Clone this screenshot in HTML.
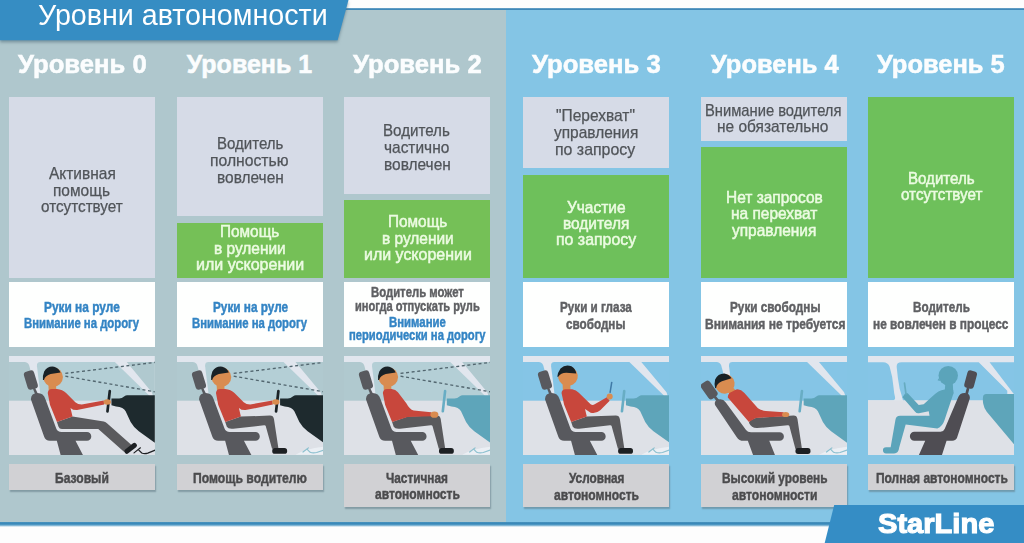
<!DOCTYPE html>
<html lang="ru"><head><meta charset="utf-8"><title>Уровни автономности</title>
<style>
html,body{margin:0;padding:0;}
body{width:1024px;height:543px;overflow:hidden;background:#fdfdfd;position:relative;font-family:"Liberation Sans",sans-serif;}
.abs{position:absolute;}
#topline{left:0;top:7.8px;width:1024px;height:5px;background:linear-gradient(#fdfdfd 0,#3f88b8 12%,#3f88b8 62%,rgba(63,136,184,0) 100%);}
#lp{left:0;top:10px;width:506px;height:512px;background:#afc7cd;}
#rp{left:505.5px;top:10px;width:518.5px;height:512px;background:#84c5e5;}
#botline{left:0;top:522px;width:1024px;height:4.5px;background:linear-gradient(#4a93bd 0,#3787b8 35%,#5aa0c8 60%,#fdfdfd 100%);}
.b{position:absolute;width:146px;}
.lav{background:#d6dbe7;}
.grn{background:#70bf5a;}
.wht{background:#fefffe;top:281.7px;height:65.8px;}
.lab{background:#d1d1d4;box-shadow:1.2px 2px 1.2px rgba(95,120,132,.55);top:463.9px;}
.x{position:absolute;white-space:nowrap;transform-origin:0 0;}
.t{font-size:15.7px;font-weight:normal;line-height:19px;}.c{font-size:14.7px;font-weight:bold;line-height:18px;}.c2{font-size:14.0px;font-weight:bold;line-height:18px;}.lvl{font-size:25px;font-weight:bold;line-height:30px;}.ttl{font-size:29.6px;font-weight:normal;line-height:35px;}.sl{font-size:27px;font-weight:bold;line-height:32px;}
.lvl{-webkit-text-stroke:.55px #fbfdfe;}
.t{-webkit-text-stroke:.25px currentColor;}
.t.g{-webkit-text-stroke:.5px currentColor;}
.c,.c2{-webkit-text-stroke:.45px currentColor;}
.sl{-webkit-text-stroke:1.1px #fff;}
.ill{position:absolute;top:356.1px;height:99.1px;}
</style></head><body>
<div class="abs" id="topline"></div>
<div class="abs" id="lp"></div>
<div class="abs" id="rp"></div>
<div class="abs" id="botline"></div>
<svg class="abs" style="left:0;top:0;width:360px;height:52px;filter:drop-shadow(0.5px 2px 1.6px rgba(70,100,115,.55))" viewBox="0 0 360 52"><polygon points="-5,-5 349.8,-5 348.5,0 337.6,40.3 -5,40.3" fill="#368dc3"/></svg>
<!-- col0 -->
<div class="b lav" style="left:8.8px;width:145.8px;top:96.6px;height:181.1px"></div>
<div class="b wht" style="left:8.8px;width:145.8px"></div>
<div class="b lab" style="left:8.8px;width:145.8px;height:25.9px"></div>
<!-- col1 -->
<div class="b lav" style="left:176.7px;width:146.7px;top:96.6px;height:119.9px"></div>
<div class="b grn" style="left:176.7px;width:146.7px;top:223.2px;height:54.4px;background:#75c057"></div>
<div class="b wht" style="left:176.7px;width:146.7px"></div>
<div class="b lab" style="left:176.7px;width:146.7px;height:25.9px"></div>
<!-- col2 -->
<div class="b lav" style="left:344.2px;width:146.3px;top:96.6px;height:97.6px"></div>
<div class="b grn" style="left:344.2px;width:146.3px;top:200.4px;height:77.2px;background:#75c057"></div>
<div class="b wht" style="left:344.2px;width:146.3px"></div>
<div class="b lab" style="left:344.2px;width:146.3px;height:42.7px"></div>
<!-- col3 -->
<div class="b lav" style="left:522.7px;width:146.5px;top:96.6px;height:71.4px"></div>
<div class="b grn" style="left:522.7px;width:146.5px;top:174.5px;height:103.1px;background:#6ec05b"></div>
<div class="b wht" style="left:522.7px;width:146.5px"></div>
<div class="b lab" style="left:522.7px;width:146.5px;height:42.7px"></div>
<!-- col4 -->
<div class="b lav" style="left:701.3px;width:146.1px;top:96.6px;height:44.0px"></div>
<div class="b grn" style="left:701.3px;width:146.1px;top:147.0px;height:130.6px;background:#6ec05b"></div>
<div class="b wht" style="left:701.3px;width:146.1px"></div>
<div class="b lab" style="left:701.3px;width:146.1px;height:42.7px"></div>
<!-- col5 -->
<div class="b grn" style="left:867.9px;width:146.3px;top:96.6px;height:181.0px;background:#6ec05b"></div>
<div class="b wht" style="left:867.9px;width:146.3px"></div>
<div class="b lab" style="left:867.9px;width:146.3px;height:25.9px"></div>
<svg class="abs" style="left:820px;top:500px;width:204px;height:43px" viewBox="0 0 204 43"><polygon points="14.2,4.9 204,4.9 204,43 4.7,43" fill="#358dc5"/></svg>
<svg class="ill" style="left:8.8px;width:145.8px" viewBox="0 -0.7 146 99.1" preserveAspectRatio="none">
<rect x="0" y="-1" width="146" height="100" fill="#e1e6ee"/>
<path d="M0,5.4 H15.5 Q19,5.4 20.3,9 L29.6,44.5 H0 Z" fill="#b0c9cf"/>
<path d="M31.4,5.4 H106 L140.4,38.9 V44.5 H32.3 L28,9.5 Q27.6,5.4 31.4,5.4 Z" fill="#b4cfd6"/>
<path d="M117.9,5.4 H146 V44.5 L143,35.6 Z" fill="#b0c9cf"/>
<rect x="0" y="44" width="146" height="56" fill="#dee1e7"/>
<g stroke="#52666f" stroke-width="1.35" stroke-dasharray="3 2.6" fill="none"><line x1="56.4" y1="16.7" x2="146" y2="5.7"/><line x1="56.4" y1="19.5" x2="146" y2="35.1"/></g>
<path d="M146,38.6 H118.3 Q116.8,38.7 115.6,39.6 Q113,41.8 110.3,41.9 L102.6,41.8 V48.6 L107.2,49.8 Q114.8,50.6 116.8,54.6 L121.8,65.3 Q125,71 130,74.5 L146,86 Z" fill="#1e2a2e"/><line x1="100.9" y1="34.4" x2="98.6" y2="54.6" stroke="#1b2327" stroke-width="2.7" stroke-linecap="round"/>
<g stroke="#1d2023" fill="none" stroke-linecap="round"><line x1="125.2" y1="96.2" x2="131.6" y2="91.1" stroke-width="1.2"/><path d="M130,93.4 L132.9,96.3 Q135.6,97.4 139,96.4 L145.8,93.6" stroke-width="1.3"/></g>
<g fill="#58595e"><rect x="16.6" y="14.1" width="10.6" height="18.6" rx="3.2" transform="rotate(-17 21.9 23.4)"/><path d="M23.4,30.5 L26,31 L29.4,38 L26.8,39 Z"/><path d="M21.9,42.5 Q22.2,36.4 28.6,36.4 Q34.6,36.4 36.5,42.6 L47.2,71.6 Q48.6,75.4 52.5,75.4 H78.1 A4.3,4.3 0 0 1 78.1,84 H66.6 L74.4,99 H51.9 L47.9,84 H41 Q36.6,84 35.2,80 Z"/></g>
<path d="M39.4,27 L47,26.5 L47.4,34 L39.8,34 Z" fill="#d98c50"/>
<g transform="rotate(0 44.2 20.4)"><circle cx="44.2" cy="20.4" r="9.8" fill="#d98c50"/><path d="M34.0,23.4 L35.0,23.3 Q36.4,18.8 41.7,17.4 L51.6,15.8 Q50.2,11.8 45.2,10.0 Q38.7,9.0 35.2,14.8 Q33.4,19.4 34.0,23.4 Z" fill="#192126"/></g>
<path d="M48,65.4 L63.6,59.9 L94.9,64.9 Q97,65.3 98.4,66.8 L122.7,88.4 L115.4,95.2 L89.4,72.3 H53 Q50.4,72.3 49.6,70 Z" fill="#5a5a5d"/><rect x="114.6" y="89.1" width="14.4" height="5" rx="2.2" transform="rotate(-38 121.8 91.6)" fill="#1d2023"/>
<path d="M38.8,36.4 Q39,32.3 43,32.2 L48,32.2 Q53.6,32.8 57.2,36.4 L66.4,45.6 Q69,47.9 72.8,47.9 L94.9,43.7 L95.4,47.9 L68.2,53.4 Q64,53.6 61.6,51.2 L63.6,59.9 L48,65.4 L41,48 Z" fill="#c8473c"/>
<ellipse cx="98.4" cy="45.3" rx="3.7" ry="2.7" fill="#d98c50"/>
</svg>
<svg class="ill" style="left:176.7px;width:146.7px" viewBox="0 -0.7 146 99.1" preserveAspectRatio="none">
<rect x="0" y="-1" width="146" height="100" fill="#e1e6ee"/>
<path d="M0,5.4 H15.5 Q19,5.4 20.3,9 L29.6,44.5 H0 Z" fill="#b0c9cf"/>
<path d="M31.4,5.4 H106 L140.4,38.9 V44.5 H32.3 L28,9.5 Q27.6,5.4 31.4,5.4 Z" fill="#b4cfd6"/>
<path d="M117.9,5.4 H146 V44.5 L143,35.6 Z" fill="#b0c9cf"/>
<rect x="0" y="44" width="146" height="56" fill="#dee1e7"/>
<g stroke="#52666f" stroke-width="1.35" stroke-dasharray="3 2.6" fill="none"><line x1="56.4" y1="16.7" x2="146" y2="5.7"/><line x1="56.4" y1="19.5" x2="146" y2="35.1"/></g>
<path d="M146,38.6 H118.3 Q116.8,38.7 115.6,39.6 Q113,41.8 110.3,41.9 L102.6,41.8 V48.6 L107.2,49.8 Q114.8,50.6 116.8,54.6 L121.8,65.3 Q125,71 130,74.5 L146,86 Z" fill="#1e2a2e"/><line x1="100.9" y1="34.4" x2="98.6" y2="54.6" stroke="#1b2327" stroke-width="2.7" stroke-linecap="round"/>
<path d="M118,98 Q128,92 146,90 V98 Z" fill="#eef3f7" opacity=".8"/><g stroke="#8cc0cf" fill="none" stroke-linecap="round"><line x1="125.4" y1="95.3" x2="130.8" y2="91.2" stroke-width="1.2"/><path d="M129.6,92.6 L132.5,95.6 Q135.4,96.8 139,95.8 L145.8,93.4" stroke-width="1.2"/></g>
<g fill="#58595e"><rect x="16.6" y="14.1" width="10.6" height="18.6" rx="3.2" transform="rotate(-17 21.9 23.4)"/><path d="M23.4,30.5 L26,31 L29.4,38 L26.8,39 Z"/><path d="M21.9,42.5 Q22.2,36.4 28.6,36.4 Q34.6,36.4 36.5,42.6 L47.2,71.6 Q48.6,75.4 52.5,75.4 H78.1 A4.3,4.3 0 0 1 78.1,84 H66.6 L74.4,99 H51.9 L47.9,84 H41 Q36.6,84 35.2,80 Z"/></g>
<path d="M39.4,27 L47,26.5 L47.4,34 L39.8,34 Z" fill="#d98c50"/>
<g transform="rotate(0 44.2 20.4)"><circle cx="44.2" cy="20.4" r="9.8" fill="#d98c50"/><path d="M34.0,23.4 L35.0,23.3 Q36.4,18.8 41.7,17.4 L51.6,15.8 Q50.2,11.8 45.2,10.0 Q38.7,9.0 35.2,14.8 Q33.4,19.4 34.0,23.4 Z" fill="#192126"/></g>
<path d="M48,65.4 L63.6,59.9 L92.5,58.9 Q95.9,58.9 96.5,62.3 L101,92 H94.6 L88.3,69.4 Q88,68.4 86.6,68.6 L56,72 Q51,72.6 49.6,70 Z" fill="#5a5a5d"/><rect x="94.8" y="91.2" width="14.8" height="5.9" rx="2.6" fill="#1d2023"/>
<path d="M38.8,36.4 Q39,32.3 43,32.2 L48,32.2 Q53.6,32.8 57.2,36.4 L66.4,45.6 Q69,47.9 72.8,47.9 L94.9,43.7 L95.4,47.9 L68.2,53.4 Q64,53.6 61.6,51.2 L63.6,59.9 L48,65.4 L41,48 Z" fill="#c8473c"/>
<ellipse cx="98.4" cy="45.3" rx="3.7" ry="2.7" fill="#d98c50"/>
</svg>
<svg class="ill" style="left:344.2px;width:146.3px" viewBox="0 -0.7 146 99.1" preserveAspectRatio="none">
<rect x="0" y="-1" width="146" height="100" fill="#e1e6ee"/>
<path d="M0,5.4 H15.5 Q19,5.4 20.3,9 L29.6,44.5 H0 Z" fill="#b0c9cf"/>
<path d="M31.4,5.4 H106 L140.4,38.9 V44.5 H32.3 L28,9.5 Q27.6,5.4 31.4,5.4 Z" fill="#b4cfd6"/>
<path d="M117.9,5.4 H146 V44.5 L143,35.6 Z" fill="#b0c9cf"/>
<rect x="0" y="44" width="146" height="56" fill="#dee1e7"/>
<path d="M146,38.6 H118.3 Q116.8,38.7 115.6,39.6 Q113,41.8 110.3,41.9 L102.6,41.8 V48.6 L107.2,49.8 Q114.8,50.6 116.8,54.6 L121.8,65.3 Q125,71 130,74.5 L146,86 Z" fill="#5ea5ba"/><line x1="100.9" y1="34.4" x2="98.6" y2="54.6" stroke="#68adc4" stroke-width="2.6" stroke-linecap="round"/>
<g stroke="#52666f" stroke-width="1.35" stroke-dasharray="3 2.6" fill="none"><line x1="56.4" y1="16.7" x2="146" y2="5.7"/><line x1="56.4" y1="19.5" x2="146" y2="35.1"/></g>
<path d="M118,98 Q128,92 146,90 V98 Z" fill="#eef3f7" opacity=".8"/><g stroke="#8cc0cf" fill="none" stroke-linecap="round"><line x1="125.4" y1="95.3" x2="130.8" y2="91.2" stroke-width="1.2"/><path d="M129.6,92.6 L132.5,95.6 Q135.4,96.8 139,95.8 L145.8,93.4" stroke-width="1.2"/></g>
<g fill="#58595e"><rect x="16.6" y="14.1" width="10.6" height="18.6" rx="3.2" transform="rotate(-17 21.9 23.4)"/><path d="M23.4,30.5 L26,31 L29.4,38 L26.8,39 Z"/><path d="M21.9,42.5 Q22.2,36.4 28.6,36.4 Q34.6,36.4 36.5,42.6 L47.2,71.6 Q48.6,75.4 52.5,75.4 H78.1 A4.3,4.3 0 0 1 78.1,84 H66.6 L74.4,99 H51.9 L47.9,84 H41 Q36.6,84 35.2,80 Z"/></g>
<path d="M39.4,27 L47,26.5 L47.4,34 L39.8,34 Z" fill="#d98c50"/>
<g transform="rotate(0 44.2 20.4)"><circle cx="44.2" cy="20.4" r="9.8" fill="#d98c50"/><path d="M34.0,23.4 L35.0,23.3 Q36.4,18.8 41.7,17.4 L51.6,15.8 Q50.2,11.8 45.2,10.0 Q38.7,9.0 35.2,14.8 Q33.4,19.4 34.0,23.4 Z" fill="#192126"/></g>
<path d="M48,65.4 L63.6,59.9 L92.5,58.9 Q95.9,58.9 96.5,62.3 L101,92 H94.6 L88.3,69.4 Q88,68.4 86.6,68.6 L56,72 Q51,72.6 49.6,70 Z" fill="#5a5a5d"/><rect x="94.8" y="91.2" width="14.8" height="5.9" rx="2.6" fill="#1d2023"/>
<path d="M38.8,36.4 Q39,32.3 43,32.2 L47.5,32.4 Q51.5,32.8 53.8,35.6 L62.2,46.5 Q65.4,52.6 69.5,53.8 L87,55.6 L87.2,59.6 L63.4,60.2 L48,65.4 L41,48 Z" fill="#c8473c"/>
<ellipse cx="90.2" cy="58" rx="4" ry="3.1" fill="#d98c50"/>
</svg>
<svg class="ill" style="left:522.7px;width:146.5px" viewBox="0 -0.7 146 99.1" preserveAspectRatio="none">
<rect x="0" y="-1" width="146" height="100" fill="#e1e6ee"/>
<path d="M0,5.4 H15.5 Q19,5.4 20.3,9 L29.6,44.5 H0 Z" fill="#85c5e6"/>
<path d="M31.4,5.4 H106 L140.4,38.9 V44.5 H32.3 L28,9.5 Q27.6,5.4 31.4,5.4 Z" fill="#85c5e6"/>
<path d="M117.9,5.4 H146 V44.5 L143,35.6 Z" fill="#85c5e6"/>
<rect x="0" y="44" width="146" height="56" fill="#dee1e7"/>
<path d="M146,38.6 H118.3 Q116.8,38.7 115.6,39.6 Q113,41.8 110.3,41.9 L102.6,41.8 V48.6 L107.2,49.8 Q114.8,50.6 116.8,54.6 L121.8,65.3 Q125,71 130,74.5 L146,86 Z" fill="#5ea5ba"/><line x1="100.9" y1="34.4" x2="98.6" y2="54.6" stroke="#68adc4" stroke-width="2.6" stroke-linecap="round"/>
<path d="M118,98 Q128,92 146,90 V98 Z" fill="#eef3f7" opacity=".8"/><g stroke="#8cc0cf" fill="none" stroke-linecap="round"><line x1="125.4" y1="95.3" x2="130.8" y2="91.2" stroke-width="1.2"/><path d="M129.6,92.6 L132.5,95.6 Q135.4,96.8 139,95.8 L145.8,93.4" stroke-width="1.2"/></g>
<g fill="#58595e"><rect x="16.6" y="14.1" width="10.6" height="18.6" rx="3.2" transform="rotate(-17 21.9 23.4)"/><path d="M23.4,30.5 L26,31 L29.4,38 L26.8,39 Z"/><path d="M21.9,42.5 Q22.2,36.4 28.6,36.4 Q34.6,36.4 36.5,42.6 L47.2,71.6 Q48.6,75.4 52.5,75.4 H78.1 A4.3,4.3 0 0 1 78.1,84 H66.6 L74.4,99 H51.9 L47.9,84 H41 Q36.6,84 35.2,80 Z"/></g>
<path d="M39.4,27 L47,26.5 L47.4,34 L39.8,34 Z" fill="#d98c50"/>
<g transform="rotate(14 44.8 19.5)"><circle cx="44.8" cy="19.5" r="9.8" fill="#d98c50"/><path d="M34.6,22.5 L35.6,22.4 Q37.0,17.9 42.3,16.5 L52.2,14.9 Q50.8,10.9 45.8,9.1 Q39.3,8.1 35.8,13.9 Q34.0,18.5 34.6,22.5 Z" fill="#192126"/></g>
<path d="M48,65.4 L63.6,59.9 L92.5,58.9 Q95.9,58.9 96.5,62.3 L101,92 H94.6 L88.3,69.4 Q88,68.4 86.6,68.6 L56,72 Q51,72.6 49.6,70 Z" fill="#5a5a5d"/><rect x="94.8" y="91.2" width="14.8" height="5.9" rx="2.6" fill="#1d2023"/>
<path d="M38.4,36.4 Q38.6,32.6 42.6,32.5 L49,32.5 Q53,33 55.6,36 L67.4,47.6 Q69.4,49.2 71.4,47.6 L83.6,40.6 L86.4,44 L77,53.6 Q72.6,57.4 67.4,56 L61.8,52.4 L63.6,59.9 L48,65.4 L41,48 Z" fill="#c8473c"/>
<circle cx="86.4" cy="39.8" r="3" fill="#d98c50"/>
<line x1="88.4" y1="25.8" x2="86.8" y2="35.6" stroke="#3f79a6" stroke-width="1.5" stroke-linecap="round"/>
</svg>
<svg class="ill" style="left:701.3px;width:146.1px" viewBox="0 -0.7 146 99.1" preserveAspectRatio="none">
<rect x="0" y="-1" width="146" height="100" fill="#e1e6ee"/>
<path d="M0,5.4 H15.5 Q19,5.4 20.3,9 L29.6,44.5 H0 Z" fill="#85c5e6"/>
<path d="M31.4,5.4 H106 L140.4,38.9 V44.5 H32.3 L28,9.5 Q27.6,5.4 31.4,5.4 Z" fill="#85c5e6"/>
<path d="M117.9,5.4 H146 V44.5 L143,35.6 Z" fill="#85c5e6"/>
<rect x="0" y="44" width="146" height="56" fill="#dee1e7"/>
<path d="M146,38.6 H118.3 Q116.8,38.7 115.6,39.6 Q113,41.8 110.3,41.9 L102.6,41.8 V48.6 L107.2,49.8 Q114.8,50.6 116.8,54.6 L121.8,65.3 Q125,71 130,74.5 L146,86 Z" fill="#5ea5ba"/><line x1="100.9" y1="34.4" x2="98.6" y2="54.6" stroke="#68adc4" stroke-width="2.6" stroke-linecap="round"/>
<path d="M118,98 Q128,92 146,90 V98 Z" fill="#eef3f7" opacity=".8"/><g stroke="#8cc0cf" fill="none" stroke-linecap="round"><line x1="125.4" y1="95.3" x2="130.8" y2="91.2" stroke-width="1.2"/><path d="M129.6,92.6 L132.5,95.6 Q135.4,96.8 139,95.8 L145.8,93.4" stroke-width="1.2"/></g>
<g fill="#58595e"><rect x="2.9" y="24" width="10.6" height="18.4" rx="3.2" transform="rotate(-35 8.2 33.2)"/><path d="M11.6,39.4 L13.8,38 L19,44.4 L16.4,45.8 Z"/><path d="M14.2,48.5 Q12.6,44.3 17,42.9 Q21.8,41.5 24.8,45.7 L45,73.3 Q46.6,75.6 50,75.6 H78.6 A4.25,4.25 0 0 1 78.6,84.1 H68.2 L74.2,99 H52.3 L46.8,84.1 H42.5 Q38,84.1 35.6,80.2 Z"/></g>
<path d="M26.4,35 L32.6,31.4 L36.6,36.4 L30.4,40 Z" fill="#d98c50"/>
<g transform="rotate(-8 23.8 27.2)"><circle cx="23.8" cy="27.2" r="9.8" fill="#d98c50"/><path d="M13.6,30.2 L14.6,30.1 Q16.0,25.6 21.3,24.2 L31.2,22.6 Q29.8,18.6 24.8,16.8 Q18.3,15.8 14.8,21.6 Q13.0,26.2 13.6,30.2 Z" fill="#192126"/></g>
<path d="M47.9,66 Q48.6,63.4 54.7,61.2 L92.5,58.8 Q95.8,58.8 96.4,62.2 L100.9,92.4 H94.4 L88.3,69.4 Q88,68.3 86.6,68.5 L56,71.4 Q50.5,71.6 47.9,66 Z" fill="#5a5a5d"/>
<rect x="94.4" y="91.4" width="15" height="5.8" rx="2.6" fill="#1d2023"/>
<path d="M26.8,40.8 Q26.6,36.6 30.4,35.2 L35.2,32.8 Q39.6,32 43.4,36.2 L56.9,51.6 Q60,54 64.8,54.2 L82.6,55.6 L82.6,59.9 L54.7,61.2 L47.9,65.4 Z" fill="#c8473c"/>
<ellipse cx="84.6" cy="57.8" rx="3.6" ry="2.6" fill="#d98c50"/>
</svg>
<svg class="ill" style="left:867.9px;width:146.3px" viewBox="0 -0.7 146 99.1" preserveAspectRatio="none">
<rect x="0" y="-1" width="146" height="100" fill="#e1e6ee"/>
<path d="M0,5.6 H15 Q20,5.8 21.6,10 Q24.6,20 25.4,30 Q26,37 27,40.5 Q27.6,43.6 24,43.6 H0 Z" fill="#85c5e6"/>
<path d="M33.5,5.6 H110.5 L139,34 V44 H35 Q33.5,38 31.6,32 Q29.6,22 28.6,10 Q28.4,5.6 33.5,5.6 Z" fill="#85c5e6"/>
<path d="M121.3,5.6 H146 V38 Z" fill="#85c5e6"/>
<rect x="0" y="43.6" width="146" height="56" fill="#dee1e7"/>
<path d="M146,37.2 H118 Q115.2,37.2 114.8,40 Q114.4,44 115,47 Q115.8,51.5 118.5,55 L146,88 Z" fill="#5ea5ba"/>
<g fill="#5ba4ba">
<circle cx="80.1" cy="18.9" r="9.7"/><path d="M71.2,21 L69.4,23.6 L71.8,24.4 Z"/>
<path d="M77.2,26 H84.6 L85,34 H76.6 Z"/>
<path d="M85,33.4 Q86.2,36 84.6,38.8 L76.4,63.4 Q74.4,69.8 69.2,71.9 L37.6,67.8 L31,91.4 Q30.6,96.7 26,96.7 H18 A3.1,3.1 0 0 1 18,90.5 H22.6 L27.4,63 Q28,59 32,59 L61.4,59.1 L60.6,54.6 L50.8,56.6 Q48.6,57 47,55 L34.4,40.6 L37.4,36.4 L39.6,36.6 L50.6,48.4 L55.6,47.6 L64.9,39.1 Q70,33.8 76.5,32.8 Z"/>
</g>
<line x1="36.4" y1="26.4" x2="37.9" y2="37.2" stroke="#66abc0" stroke-width="1.7" stroke-linecap="round"/>
<g fill="#4f4d53"><rect x="97.5" y="14" width="9.8" height="17.8" rx="3.1" transform="rotate(15 102.4 22.9)"/><path d="M98.6,31 L101.2,31.6 L99.6,38 L97,37.4 Z"/><path d="M90,40.6 Q91.6,36.2 96.6,36.3 Q102.2,36.6 101.6,41.8 L89,80.6 Q88,84 84,84 H78.4 L73.6,99 H50.5 L57.1,84 H46.3 A4.5,4.5 0 0 1 46.3,75 H72.4 Q75.4,75 76.5,72.4 Z"/></g>
</svg>

<!-- text -->
<span class="x ttl" style="left:37.50px;top:-3.00px;color:#fff;transform:scaleX(0.9680)">Уровни автономности</span>
<span class="x lvl" style="left:18.10px;top:49.00px;color:#fbfdfe;transform:scaleX(1.0265)">Уровень 0</span>
<span class="x lvl" style="left:186.75px;top:49.00px;color:#fbfdfe;transform:scaleX(1.0000)">Уровень 1</span>
<span class="x lvl" style="left:353.10px;top:49.00px;color:#fbfdfe;transform:scaleX(1.0265)">Уровень 2</span>
<span class="x lvl" style="left:532.10px;top:49.00px;color:#fbfdfe;transform:scaleX(1.0265)">Уровень 3</span>
<span class="x lvl" style="left:711.10px;top:49.00px;color:#fbfdfe;transform:scaleX(1.0183)">Уровень 4</span>
<span class="x lvl" style="left:877.40px;top:49.00px;color:#fbfdfe;transform:scaleX(1.0183)">Уровень 5</span>
<span class="x t" style="left:48.85px;top:164.00px;color:#505459;transform:scaleX(0.9870)">Активная</span>
<span class="x t" style="left:53.12px;top:181.00px;color:#505459;transform:scaleX(0.9850)">помощь</span>
<span class="x t" style="left:41.20px;top:197.00px;color:#505459;transform:scaleX(0.9717)">отсутствует</span>
<span class="x t" style="left:216.59px;top:134.00px;color:#505459;transform:scaleX(0.9585)">Водитель</span>
<span class="x t" style="left:210.35px;top:151.00px;color:#505459;transform:scaleX(1.0011)">полностью</span>
<span class="x t" style="left:216.66px;top:168.00px;color:#505459;transform:scaleX(0.9850)">вовлечен</span>
<span class="x t g" style="left:220.17px;top:222.00px;color:#ecfbe2;transform:scaleX(0.9778)">Помощь</span>
<span class="x t g" style="left:214.23px;top:239.00px;color:#ecfbe2;transform:scaleX(0.9850)">в рулении</span>
<span class="x t g" style="left:196.03px;top:255.00px;color:#ecfbe2;transform:scaleX(1.0203)">или ускорении</span>
<span class="x t" style="left:383.39px;top:121.00px;color:#505459;transform:scaleX(0.9644)">Водитель</span>
<span class="x t" style="left:384.44px;top:138.00px;color:#505459;transform:scaleX(0.9850)">частично</span>
<span class="x t" style="left:383.66px;top:155.00px;color:#505459;transform:scaleX(0.9850)">вовлечен</span>
<span class="x t g" style="left:387.97px;top:212.00px;color:#ecfbe2;transform:scaleX(0.9778)">Помощь</span>
<span class="x t g" style="left:382.03px;top:229.00px;color:#ecfbe2;transform:scaleX(0.9850)">в рулении</span>
<span class="x t g" style="left:363.98px;top:245.00px;color:#ecfbe2;transform:scaleX(1.0174)">или ускорении</span>
<span class="x t" style="left:556.40px;top:106.00px;color:#505459;transform:scaleX(0.9894)">"Перехват"</span>
<span class="x t" style="left:553.70px;top:123.00px;color:#505459;transform:scaleX(0.9851)">управления</span>
<span class="x t" style="left:554.94px;top:140.00px;color:#505459;transform:scaleX(1.0130)">по запросу</span>
<span class="x t g" style="left:566.82px;top:198.00px;color:#ecfbe2;transform:scaleX(0.9850)">Участие</span>
<span class="x t g" style="left:562.80px;top:214.00px;color:#ecfbe2;transform:scaleX(0.9850)">водителя</span>
<span class="x t g" style="left:555.54px;top:230.00px;color:#ecfbe2;transform:scaleX(1.0130)">по запросу</span>
<span class="x t" style="left:705.06px;top:101.00px;color:#505459;transform:scaleX(0.9393)">Внимание водителя</span>
<span class="x t" style="left:717.17px;top:117.00px;color:#505459;transform:scaleX(0.9850)">не обязательно</span>
<span class="x t g" style="left:725.61px;top:188.00px;color:#ecfbe2;transform:scaleX(0.9867)">Нет запросов</span>
<span class="x t g" style="left:730.74px;top:204.00px;color:#ecfbe2;transform:scaleX(0.9850)">на перехват</span>
<span class="x t g" style="left:732.40px;top:221.00px;color:#ecfbe2;transform:scaleX(0.9851)">управления</span>
<span class="x t g" style="left:907.89px;top:169.00px;color:#ecfbe2;transform:scaleX(0.9615)">Водитель</span>
<span class="x t g" style="left:901.00px;top:185.00px;color:#ecfbe2;transform:scaleX(0.9670)">отсутствует</span>
<span class="x c" style="left:44.20px;top:298.00px;color:#3384c4;transform:scaleX(0.8091)">Руки на руле</span>
<span class="x c" style="left:24.10px;top:314.00px;color:#3384c4;transform:scaleX(0.7721)">Внимание на дорогу</span>
<span class="x c" style="left:212.50px;top:298.00px;color:#3384c4;transform:scaleX(0.8027)">Руки на руле</span>
<span class="x c" style="left:192.20px;top:314.00px;color:#3384c4;transform:scaleX(0.7708)">Внимание на дорогу</span>
<span class="x c2" style="left:370.60px;top:283.00px;color:#5f6063;transform:scaleX(0.8095)">Водитель может</span>
<span class="x c2" style="left:354.60px;top:297.00px;color:#5f6063;transform:scaleX(0.7900)">иногда отпускать руль</span>
<span class="x c2" style="left:388.60px;top:313.00px;color:#3384c4;transform:scaleX(0.8120)">Внимание</span>
<span class="x c2" style="left:348.75px;top:326.00px;color:#3384c4;transform:scaleX(0.8004)">периодически на дорогу</span>
<span class="x c" style="left:559.65px;top:298.00px;color:#5f6063;transform:scaleX(0.7961)">Руки и глаза</span>
<span class="x c" style="left:566.40px;top:315.00px;color:#5f6063;transform:scaleX(0.7971)">свободны</span>
<span class="x c" style="left:729.50px;top:298.00px;color:#5f6063;transform:scaleX(0.8004)">Руки свободны</span>
<span class="x c" style="left:704.50px;top:315.00px;color:#5f6063;transform:scaleX(0.8180)">Внимания не требуется</span>
<span class="x c" style="left:912.90px;top:298.00px;color:#5f6063;transform:scaleX(0.7952)">Водитель</span>
<span class="x c" style="left:873.24px;top:315.00px;color:#5f6063;transform:scaleX(0.8081)">не вовлечен в процесс</span>
<span class="x c" style="left:55.00px;top:469.00px;color:#4b4b4d;transform:scaleX(0.8228)">Базовый</span>
<span class="x c" style="left:193.45px;top:469.00px;color:#4b4b4d;transform:scaleX(0.8276)">Помощь водителю</span>
<span class="x c" style="left:386.45px;top:469.00px;color:#4b4b4d;transform:scaleX(0.8045)">Частичная</span>
<span class="x c" style="left:374.80px;top:485.00px;color:#4b4b4d;transform:scaleX(0.8193)">автономность</span>
<span class="x c" style="left:568.50px;top:469.00px;color:#4b4b4d;transform:scaleX(0.8023)">Условная</span>
<span class="x c" style="left:553.50px;top:486.00px;color:#4b4b4d;transform:scaleX(0.8213)">автономность</span>
<span class="x c" style="left:722.10px;top:469.00px;color:#4b4b4d;transform:scaleX(0.8072)">Высокий уровень</span>
<span class="x c" style="left:732.10px;top:486.00px;color:#4b4b4d;transform:scaleX(0.8251)">автономности</span>
<span class="x c" style="left:875.80px;top:469.00px;color:#4b4b4d;transform:scaleX(0.8152)">Полная автономность</span>
<span class="x sl" style="left:877.75px;top:508.00px;color:#fff;transform:scaleX(1.0767)">StarLine</span>
</body></html>
